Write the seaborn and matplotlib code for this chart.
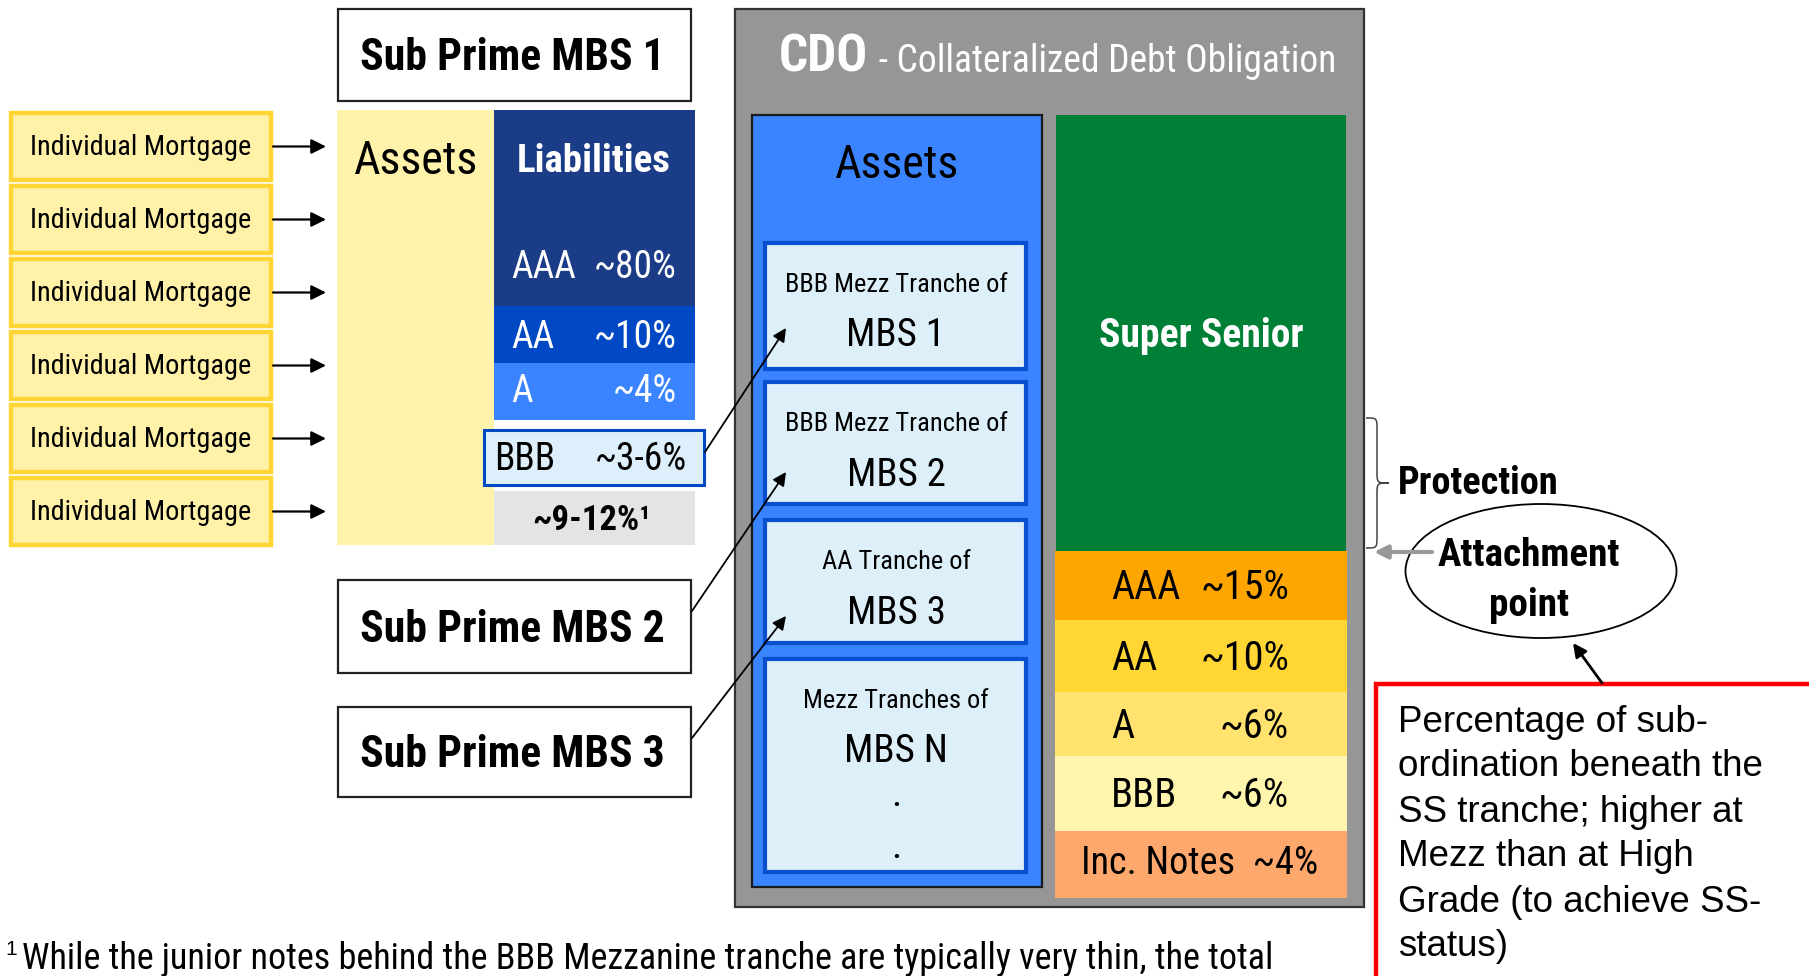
import matplotlib
matplotlib.use('Agg')
import matplotlib.pyplot as plt
import seaborn as sns
from matplotlib import font_manager
from matplotlib.patches import Rectangle, Ellipse, PathPatch
from matplotlib.path import Path

# ---- content of the diagram ----
mortgage_labels = ['Individual Mortgage'] * 6
mbs_titles = ['Sub Prime MBS 1', 'Sub Prime MBS 2', 'Sub Prime MBS 3']
mbs1_ratings = ['AAA', 'AA', 'A', 'BBB']
mbs1_pcts = ['~80%', '~10%', '~4%', '~3-6%']
mbs1_colors = ['#1b3c86', '#0048c4', '#3b84ff', '#ddeffa']
mbs1_equity = '~9-12%\u00b9'
cdo_heads = ['BBB Mezz Tranche of', 'BBB Mezz Tranche of', 'AA Tranche of', 'Mezz Tranches of']
cdo_names = ['MBS 1', 'MBS 2', 'MBS 3', 'MBS N']
cdo_ratings = ['AAA', 'AA', 'A', 'BBB']
cdo_pcts = ['~15%', '~10%', '~6%', '~6%']
cdo_colors = ['#ffa500', '#ffd633', '#ffe36e', '#fff5ad']
cdo_junior = 'Inc. Notes  ~4%'
note_lines = ['Percentage of sub-', 'ordination beneath the', 'SS tranche; higher at',
              'Mezz than at High', 'Grade (to achieve SS-', 'status)']
footnote = 'While the junior notes behind the BBB Mezzanine tranche are typically very thin, the total'

sns.set_theme(style='white')
names = {f.name for f in font_manager.fontManager.ttflist}
NARROW, NS = 'Liberation Sans', 0.82
for cand in ['Liberation Sans Narrow', 'Arial Narrow', 'Roboto Condensed', 'Archivo Narrow']:
    if cand in names:
        NARROW, NS = cand, 1.0
        break
plt.rcParams['font.family'] = ['Liberation Sans', 'DejaVu Sans']

fig = plt.figure(figsize=(18.09, 9.76), dpi=100)
ax = fig.add_axes([0, 0, 1, 1])
ax.set_xlim(0, 1809)
ax.set_ylim(976, 0)
ax.axis('off')


def box(x0, y0, x1, y1, fc, ec='none', lw=0, z=1):
    ax.add_patch(Rectangle((x0, y0), x1 - x0, y1 - y0, facecolor=fc, edgecolor=ec, linewidth=lw, zorder=z))


def txt(x, y, s, size, color='black', bold=False, ha='center', va='center', narrow=True, z=5):
    ax.text(x, y, s, fontsize=size * (NS if narrow else 1.0), color=color,
            fontweight='bold' if bold else 'normal', ha=ha, va=va,
            family=[NARROW, 'DejaVu Sans'] if narrow else ['Liberation Sans', 'DejaVu Sans'], zorder=z)


def arrow(x0, y0, x1, y1, color='black', lw=1.5, ms=22):
    ax.annotate('', xy=(x1, y1), xytext=(x0, y0),
                arrowprops=dict(arrowstyle='-|>', color=color, lw=lw, mutation_scale=ms,
                                shrinkA=0, shrinkB=0), zorder=6)


# individual mortgages
mort_top, mort_h, mort_gap = 112, 69, 73
for i, lab in enumerate(mortgage_labels):
    y0 = mort_top + i * mort_gap
    box(11, y0 + 1, 271, y0 + mort_h - 1, '#fff2a8', '#ffd633', 3.2)
    txt(141, y0 + mort_h / 2 + 1, lab, 20.3)
    arrow(273, y0 + mort_h / 2, 326, y0 + mort_h / 2, lw=1.6, ms=22)

# sub prime MBS titles
for title, (y0, y1) in zip(mbs_titles, [(9, 101), (580, 673), (707, 797)]):
    box(338, y0, 691, y1, 'white', '#222222', 1.6)
    txt(512, (y0 + y1) / 2 + 3, title, 31.5, bold=True)

# MBS 1 balance sheet
box(337, 110, 494, 545, '#fff3ab')
txt(416, 161, 'Assets', 33)
mbs1_bounds = [(110, 306), (306, 363), (363, 420)]
for (y0, y1), c in zip(mbs1_bounds, mbs1_colors[:3]):
    box(494, y0, 695, y1, c)
txt(594, 161, 'Liabilities', 28, color='white', bold=True)
for r, p, yc in zip(mbs1_ratings[:3], mbs1_pcts[:3], [268, 337, 392]):
    txt(511, yc, r, 27, color='white', ha='left')
    txt(677, yc, p, 27, color='white', ha='right')
box(484, 430, 704, 485, mbs1_colors[3], '#0048c4', 2.2, z=2)
txt(494, 459, mbs1_ratings[3], 27, ha='left')
txt(687, 459, mbs1_pcts[3], 27, ha='right')
box(494, 491, 695, 545, '#e4e4e4')
txt(592, 520, mbs1_equity, 25, bold=True)

# CDO frame
box(735, 9, 1364, 907, '#969696', '#333333', 1.6)
txt(779, 58, 'CDO', 37, color='white', bold=True, ha='left')
txt(870, 62, ' - Collateralized Debt Obligation', 27, color='white', ha='left')

# CDO assets
box(752, 115, 1042, 887, '#3a84ff', '#1a1a1a', 1.6, z=2)
txt(897, 165, 'Assets', 33, z=5)
asset_bounds = [(243, 369), (382, 504), (520, 643), (659, 872)]
for (y0, y1), h, n in zip(asset_bounds, cdo_heads, cdo_names):
    box(765, y0, 1026, y1, '#ddf0fa', '#0a4fd0', 3.0, z=3)
    txt(896, y0 + 42, h, 19)
    txt(896, y0 + 93, n, 28)
txt(896, 796, '.', 28)
txt(896, 848, '.', 28)

# links from MBS bonds into the CDO
arrow(705, 452, 786, 328, lw=1.3, ms=20)
arrow(692, 611, 786, 472, lw=1.3, ms=20)
arrow(692, 738, 786, 616, lw=1.3, ms=20)

# CDO liabilities
box(1056, 115, 1346, 551, '#007f36', z=2)
txt(1201, 336, 'Super Senior', 28.5, color='white', bold=True)
cdo_bounds = [(551, 620), (620, 692), (692, 756), (756, 831)]
for (y0, y1), c, r, p in zip(cdo_bounds, cdo_colors, cdo_ratings, cdo_pcts):
    box(1055, y0, 1347, y1, c, z=2)
    txt(1111, (y0 + y1) / 2 + 2, r, 29, ha='left')
    txt(1289, (y0 + y1) / 2 + 2, p, 29, ha='right')
box(1055, 831, 1347, 898, '#ffa86e', z=2)
txt(1200, 864, cdo_junior, 27.5)

# protection brace
bx0, bx1, bm, btop, bbot = 1366, 1389, 1377, 418, 548
ymid = (btop + bbot) / 2
verts = [(bx0, btop), (bm, btop), (bm, btop), (bm, btop + 12), (bm, ymid - 12),
         (bm, ymid), (bm, ymid), (bx1, ymid), (bm, ymid), (bm, ymid), (bm, ymid + 12),
         (bm, bbot - 12), (bm, bbot), (bm, bbot), (bx0, bbot)]
codes = [Path.MOVETO, Path.CURVE4, Path.CURVE4, Path.CURVE4, Path.LINETO,
         Path.CURVE4, Path.CURVE4, Path.CURVE4, Path.CURVE4, Path.CURVE4, Path.CURVE4,
         Path.LINETO, Path.CURVE4, Path.CURVE4, Path.CURVE4]
ax.add_patch(PathPatch(Path(verts, codes), facecolor='none', edgecolor='#444444', lw=1.1, zorder=4))
txt(1398, 484, 'Protection', 27.5, bold=True, ha='left')

# attachment point
arrow(1432, 552, 1374, 552, color='#999999', lw=3, ms=20)
ax.add_patch(Ellipse((1541, 571), 271, 134, facecolor='none', edgecolor='black', lw=1.3, zorder=4))
txt(1529, 555, 'Attachment', 28.2, bold=True)
txt(1529, 606, 'point', 28.2, bold=True)
arrow(1602, 683, 1573, 643, lw=2, ms=20)

# explanatory note
box(1376, 684, 1900, 1100, 'white', '#ff0000', 3.2, z=2)
for i, line in enumerate(note_lines):
    txt(1398, 722 + i * 45, line, 26.5, ha='left', narrow=False)

# footnote
txt(5, 955, '1', 15, ha='left', va='baseline', narrow=False)
txt(22, 969, footnote, 26, ha='left', va='baseline')

fig.savefig('out.png', dpi=100)
